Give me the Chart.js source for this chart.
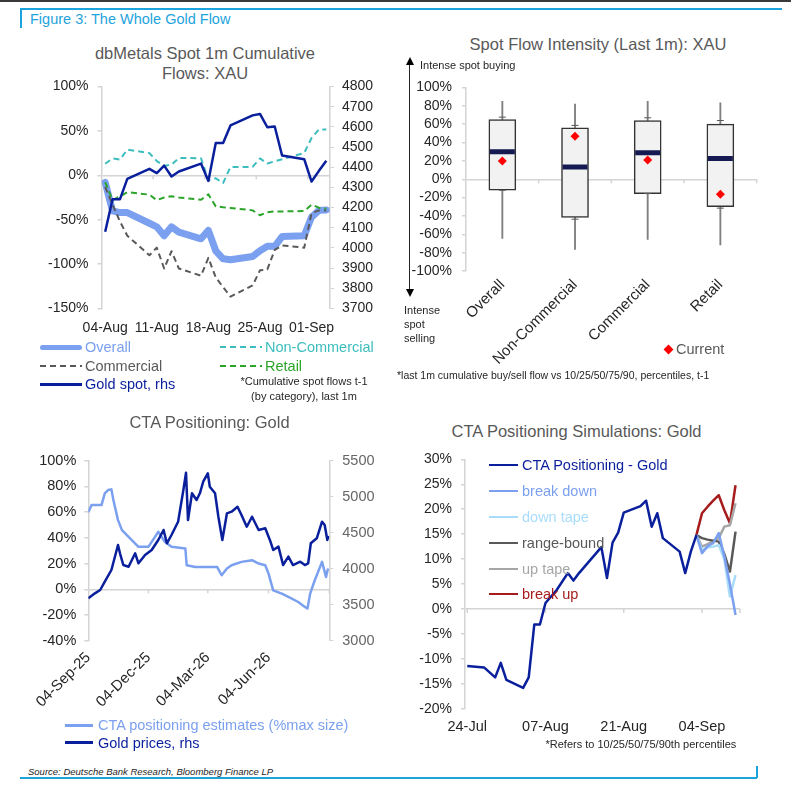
<!DOCTYPE html>
<html>
<head>
<meta charset="utf-8">
<script src="https://cdn.jsdelivr.net/npm/chart.js@4.4.1/dist/chart.umd.min.js"></script>
<style>
  body { margin:0; background:#fff; font-family:"Liberation Sans", Arial, sans-serif; }
  #page { position:relative; width:791px; height:791px; overflow:hidden; background:#fff; }
  .box { position:absolute; }
  .t { position:absolute; white-space:nowrap; line-height:1; transform:translateY(-50%); }
  .tc { position:absolute; white-space:nowrap; line-height:1; transform:translate(-50%,-50%); }
  .title { color:#595959; font-size:16.5px; }
  .note { color:#262626; font-size:11px; }
  .leg { font-size:14.5px; }
  canvas { position:absolute; }
</style>
</head>
<body>
<div id="page">
  <!-- frame -->
  <div class="box" style="left:0;top:0;width:791px;height:1.5px;background:#3a3a3a"></div>
  <div class="box" style="left:20px;top:8px;width:762px;height:1.5px;background:#1ea4dc"></div>
  <div class="box" style="left:20px;top:8px;width:2px;height:20px;background:#1ea4dc"></div>
  <div class="t" style="left:30px;top:19px;font-size:14.5px;color:#1ea4dc">Figure 3: The Whole Gold Flow</div>
  <div class="box" style="left:20px;top:776.5px;width:737px;height:2px;background:#1ea4dc"></div>
  <div class="box" style="left:755.5px;top:766px;width:2px;height:12px;background:#1ea4dc"></div>
  <div class="t" style="left:28px;top:772px;font-size:9.5px;font-style:italic;color:#262626">Source: Deutsche Bank Research, Bloomberg Finance LP</div>

  <!-- chart 1 -->
  <div class="tc title" style="left:205px;top:53px">dbMetals Spot 1m Cumulative</div>
  <div class="tc title" style="left:205px;top:72.5px">Flows: XAU</div>
  <canvas id="c1" width="400" height="270" style="left:0;top:75px"></canvas>
  <div class="box" style="left:40px;top:344.5px;width:42px;height:5px;border-radius:3px;background:#7ba0ef"></div>
  <div class="t leg" style="left:85px;top:347px;color:#7ba0ef">Overall</div>
  <div class="box" style="left:220px;top:346px;width:42px;height:2px;background:repeating-linear-gradient(90deg,#3dbdbd 0 6px,transparent 6px 10px)"></div>
  <div class="t leg" style="left:265px;top:347px;color:#3dbdbd">Non-Commercial</div>
  <div class="box" style="left:40px;top:364.5px;width:42px;height:2px;background:repeating-linear-gradient(90deg,#595959 0 6px,transparent 6px 10px)"></div>
  <div class="t leg" style="left:85px;top:365.5px;color:#595959">Commercial</div>
  <div class="box" style="left:220px;top:364.5px;width:42px;height:2px;background:repeating-linear-gradient(90deg,#2aa52a 0 6px,transparent 6px 10px)"></div>
  <div class="t leg" style="left:265px;top:365.5px;color:#2aa52a">Retail</div>
  <div class="box" style="left:40px;top:383px;width:42px;height:2.5px;background:#0a1f9c"></div>
  <div class="t leg" style="left:85px;top:384px;color:#0a1f9c">Gold spot, rhs</div>
  <div class="tc note" style="left:304px;top:381px">*Cumulative spot flows t-1</div>
  <div class="tc note" style="left:304px;top:396px">(by category), last 1m</div>

  <!-- chart 2 -->
  <div class="tc title" style="left:598px;top:44px">Spot Flow Intensity (Last 1m): XAU</div>
  <canvas id="c2" width="401" height="320" style="left:390px;top:70px"></canvas>
  <div class="box" style="left:409px;top:64px;width:1.3px;height:226px;background:#262626"></div>
  <div class="box" style="left:405.5px;top:57px;width:0;height:0;border-left:4.5px solid transparent;border-right:4.5px solid transparent;border-bottom:8px solid #000"></div>
  <div class="box" style="left:405.5px;top:289px;width:0;height:0;border-left:4.5px solid transparent;border-right:4.5px solid transparent;border-top:8px solid #000"></div>
  <div class="t note" style="left:420px;top:64.5px">Intense spot buying</div>
  <div class="t note" style="left:404px;top:310px">Intense</div>
  <div class="t note" style="left:404px;top:324px">spot</div>
  <div class="t note" style="left:404px;top:338px">selling</div>
  <div class="box" style="left:665px;top:345.5px;width:7px;height:7px;background:#ff0000;transform:rotate(45deg)"></div>
  <div class="t" style="left:676px;top:349px;font-size:14.5px;color:#595959">Current</div>
  <div class="t note" style="left:397px;top:375px;font-size:10.5px">*last 1m cumulative buy/sell flow vs 10/25/50/75/90, percentiles, t-1</div>

  <!-- chart 3 -->
  <div class="tc title" style="left:209.5px;top:421.5px">CTA Positioning: Gold</div>
  <canvas id="c3" width="400" height="275" style="left:0;top:440px"></canvas>
  <div class="box" style="left:65px;top:724px;width:28px;height:2.5px;background:#7ba0ef"></div>
  <div class="t leg" style="left:98px;top:725px;color:#7ba0ef">CTA positioning estimates (%max size)</div>
  <div class="box" style="left:65px;top:741px;width:28px;height:2.5px;background:#0a1f9c"></div>
  <div class="t leg" style="left:98px;top:742.5px;color:#0a1f9c">Gold prices, rhs</div>

  <!-- chart 4 -->
  <div class="tc title" style="left:576.5px;top:431px">CTA Positioning Simulations: Gold</div>
  <canvas id="c4" width="391" height="305" style="left:400px;top:440px"></canvas>
  <div class="box" style="left:489px;top:463.5px;width:29px;height:2.5px;background:#0a1f9c"></div>
  <div class="t leg" style="left:522px;top:465px;color:#0a1f9c">CTA Positioning - Gold</div>
  <div class="box" style="left:489px;top:489.5px;width:29px;height:2.5px;background:#7ba0ef"></div>
  <div class="t leg" style="left:522px;top:491px;color:#7ba0ef">break down</div>
  <div class="box" style="left:489px;top:515.5px;width:29px;height:2.5px;background:#a9dcfa"></div>
  <div class="t leg" style="left:522px;top:517px;color:#a9dcfa">down tape</div>
  <div class="box" style="left:489px;top:541.5px;width:29px;height:2.5px;background:#595959"></div>
  <div class="t leg" style="left:522px;top:543px;color:#595959">range-bound</div>
  <div class="box" style="left:489px;top:567.5px;width:29px;height:2.5px;background:#a6a6a6"></div>
  <div class="t leg" style="left:522px;top:569px;color:#a6a6a6">up tape</div>
  <div class="box" style="left:489px;top:592.5px;width:29px;height:2.5px;background:#a61c1c"></div>
  <div class="t leg" style="left:522px;top:594px;color:#a61c1c">break up</div>
  <div class="t note" style="left:545.5px;top:744px">*Refers to 10/25/50/75/90th percentiles</div>
</div>

<script>
// ---- chart 1: dbMetals spot 1m cumulative flows (days after 04-Aug) ----
const flowDays = [0, 1, 2, 3, 6, 7, 8, 9, 10, 13, 14, 15, 16, 17, 20, 21, 22, 23, 24, 27, 28, 29, 30];
const flowOverall = [-8, -40, -42, -42, -54, -58, -68, -58, -64, -71.5, -62, -85, -94, -95, -91.5, -85, -80, -80, -69, -68, -47, -39.5, -39];
const flowNonComm = [13, 19, 17.7, 29, 25, 16, 10.5, 12, 19.5, 19.2, -5.6, -3.4, -8.7, 9.4, 9.4, 19, 13.2, 15.8, 18, 25.2, 42, 51.6, 51.6];
const flowComm = [-13, -33, -52, -68, -90, -81.5, -105, -85.5, -105, -113, -93, -115, -126, -136.7, -124, -107, -106, -84, -79, -81.5, -42.6, -39.5, -39.5];
const flowRetail = [-7.6, -28, -23.7, -19, -21.8, -28, -25, -23.7, -25, -27.5, -21.5, -35, -36, -36.7, -39.5, -45, -41.5, -40.7, -40.7, -40.3, -33, -36.5, -37.6];
const goldSpot = [4080, 4241, 4241, 4342, 4392, 4371, 4408, 4354, 4379, 4418, 4332, 4520, 4520, 4607, 4657, 4664, 4598, 4602, 4458, 4440, 4329, 4382, 4432];
const flowTickDays = [0, 7, 14, 21, 28];
const flowTickLabels = ['04-Aug', '11-Aug', '18-Aug', '25-Aug', '01-Sep'];

// ---- chart 2: spot flow intensity percentiles ----
const flowCategories = ['Overall', 'Non-Commercial', 'Commercial', 'Retail'];
const pct10 = [-64.5, -76.5, -65.6, -71.7];
const pct25 = [-12, -41.6, -15.6, -30];
const pct50 = [30, 13.4, 29, 22.5];
const pct75 = [65, 56, 64, 60];
const pct90 = [85, 82, 85, 83.4];
const capHigh = [67.7, 58.7, 67, 64];
const capLow = [-12, -43.5, -15.6, -31.5];
const currentFlow = [20, 47, 21, -16.3];

// ---- chart 3: CTA positioning vs gold (days after 04-Sep-25) ----
const ctaTickDays = [0, 91, 181, 273];
const ctaTickLabels = ['04-Sep-25', '04-Dec-25', '04-Mar-26', '04-Jun-26'];
const ctaPosDays = [0, 5, 20, 25, 30, 35, 38, 45, 51, 61, 76, 91, 101, 106, 116, 126, 147, 149, 162, 195, 202, 210, 217, 232, 248, 258, 268, 273, 280, 293, 303, 318, 328, 332, 336, 343, 354, 360, 363];
const ctaPosValues = [60, 65.5, 65.5, 74.6, 77.2, 77.7, 69.4, 53.8, 46, 40.8, 33, 33, 40.8, 44.7, 36.9, 33, 31.7, 18.7, 17.4, 17.4, 10.9, 16.1, 18.7, 21.3, 22.6, 20, 18.7, 12.2, -0.8, -3.4, -6, -9.9, -13.7, -15, -3.4, 7, 21.3, 9.6, 16.1];
const goldPriceDays = [0, 10, 18, 25, 35, 45, 48, 53, 61, 71, 76, 86, 96, 106, 114, 119, 126, 136, 144, 148, 151, 157, 164, 169, 174, 181, 184, 192, 197, 203, 210, 217, 226, 232, 240, 248, 258, 268, 275, 280, 288, 295, 303, 310, 321, 328, 333, 337, 346, 354, 358, 362, 364];
const goldPriceValues = [3589, 3658, 3704, 3819, 3982, 4329, 4214, 4051, 4028, 4214, 4075, 4190, 4260, 4399, 4538, 4353, 4468, 4653, 5093, 5333, 4676, 5047, 4954, 5047, 5208, 5325, 5139, 5047, 4722, 4399, 4769, 4792, 4861, 4746, 4583, 4722, 4538, 4561, 4399, 4260, 4306, 4051, 4167, 4051, 4097, 4051, 4075, 4353, 4422, 4653, 4607, 4399, 4454];

// ---- chart 4: CTA positioning simulations (days after 24-Jul) ----
const simTickDays = [0, 14, 28, 42];
const simTickLabels = ['24-Jul', '07-Aug', '21-Aug', '04-Sep'];
const ctaSimDays = [0, 3, 5, 6, 7, 10, 11, 12, 13, 14, 16, 18, 19, 20, 24, 25, 26, 27, 28, 31, 32, 33, 34, 35, 38, 39, 40, 41];
const ctaSimValues = [-11.4, -11.7, -13.7, -10.8, -14.2, -15.8, -13.7, -3.1, -3.1, 1.2, 3.8, 7.2, 5.7, 7.2, 12.4, 6.2, 13.3, 15.3, 19.3, 20.6, 21.7, 16.5, 19.2, 14.2, 11.5, 7.2, 11.5, 14.8];
const scenarioDays = [41, 42, 43, 44, 45, 46, 47, 48];
const breakDown = [14.8, 11.2, 12.6, 13.2, 15.2, 10.5, 5, -1.2];
const downTape = [14.8, 11.8, 12.3, 12.5, 12.8, 10, 2.5, 6.8];
const rangeBound = [14.8, 14.2, 13.9, 13.7, 13.5, 11, 7.5, 15.5];
const upTape = [14.8, 12.5, 13, 13.6, 14.2, 16.5, 16.8, 21.2];
const breakUp = [14.8, 19.2, 20.5, 21.7, 22.8, 19.8, 17.2, 24.8];

const NAVY = '#0a1f9c';
const LIGHT = '#7ba0ef';
const AXIS = '#d4d4d4';

Chart.defaults.font.family = '"Liberation Sans", Arial, sans-serif';
Chart.defaults.font.size = 14;
Chart.defaults.color = '#262626';
Chart.defaults.animation = false;
Chart.defaults.responsive = false;
Chart.defaults.plugins.legend.display = false;
Chart.defaults.plugins.tooltip.enabled = false;
Chart.defaults.elements.point.radius = 0;
Chart.defaults.elements.line.tension = 0;
Chart.defaults.elements.line.borderJoinStyle = 'round';

// small tick marks hanging under the 0 line, like the excel category axis
const zeroTicks = {
    id: 'zeroTicks',
    beforeDatasetsDraw(chart, args, opts) {
        if (!opts.at) return;
        const { ctx, scales: { x, y } } = chart;
        const y0 = y.getPixelForValue(0);
        ctx.save();
        ctx.strokeStyle = AXIS;
        ctx.lineWidth = 1.5;
        opts.at.forEach(v => {
            const px = x.getPixelForValue(v);
            ctx.beginPath();
            ctx.moveTo(px, y0);
            ctx.lineTo(px, y0 + 4);
            ctx.stroke();
        });
        ctx.restore();
    }
};
Chart.register(zeroTicks);

function pairs(xs, ys) {
    return xs.map((x, i) => ({ x: x, y: ys[i] }));
}
function fixWidth(w) {
    return s => { s.width = w; s.paddingTop = 0; s.paddingBottom = 0; };
}
function fixHeight(h) {
    return s => { s.height = h; s.paddingLeft = 0; s.paddingRight = 0; };
}
function zeroLine(c) { return c.tick && c.tick.value === 0 ? AXIS : 'transparent'; }
function pct(v) { return v + '%'; }
function plain(v) { return String(v); }
function dayTicks(days, labels) {
    return {
        afterBuildTicks: s => { s.ticks = days.map(v => ({ value: v })); },
        tickLabel: v => labels[days.indexOf(v)] || ''
    };
}

// 1. spot flows
const t1 = dayTicks(flowTickDays, flowTickLabels);
new Chart(document.getElementById('c1'), {
    type: 'line',
    data: {
        datasets: [
            { data: pairs(flowDays, goldSpot), yAxisID: 'yR', borderColor: NAVY, borderWidth: 2.5, order: 0 },
            { data: pairs(flowDays, flowRetail), borderColor: '#2aa52a', borderWidth: 2, borderDash: [6, 4], order: 1 },
            { data: pairs(flowDays, flowComm), borderColor: '#595959', borderWidth: 2, borderDash: [6, 4], order: 2 },
            { data: pairs(flowDays, flowNonComm), borderColor: '#3dbdbd', borderWidth: 2, borderDash: [6, 4], order: 3 },
            { data: pairs(flowDays, flowOverall), borderColor: LIGHT, borderWidth: 7, borderCapStyle: 'round', order: 4 }
        ]
    },
    options: {
        layout: { padding: { top: 11.5, left: 0, right: 0, bottom: 0 } },
        plugins: { zeroTicks: { at: [6.5, 13.5, 20.5, 27.5] } },
        scales: {
            x: {
                type: 'linear', min: -0.5, max: 30.5,
                afterBuildTicks: t1.afterBuildTicks, afterFit: fixHeight(36.5),
                ticks: { callback: t1.tickLabel, padding: 11, maxRotation: 0, autoSkip: false },
                grid: { display: false, drawTicks: false }, border: { display: false }
            },
            y: {
                position: 'left', min: -150, max: 100, afterFit: fixWidth(101.5),
                ticks: { stepSize: 50, callback: pct, padding: 9, autoSkip: false },
                grid: { color: zeroLine, lineWidth: 1.5, tickLength: 4, tickColor: AXIS },
                border: { color: AXIS, width: 1.5 }
            },
            yR: {
                position: 'right', min: 3700, max: 4800, afterFit: fixWidth(70),
                ticks: { stepSize: 100, padding: 8, callback: plain, autoSkip: false },
                grid: { drawOnChartArea: false, tickLength: 4, tickColor: AXIS },
                border: { color: AXIS, width: 1.5 }
            }
        }
    }
});

// 2. flow intensity box plot
new Chart(document.getElementById('c2'), {
    type: 'bar',
    data: {
        labels: flowCategories,
        datasets: [
            { data: pct10.map((v, i) => [v, pct90[i]]), backgroundColor: '#7f7f7f', barThickness: 1.2, grouped: false, order: 5 },
            { data: pct25.map((v, i) => [v, pct75[i]]), backgroundColor: '#f2f2f2', borderColor: '#333333', borderWidth: 1.5, borderSkipped: false, barThickness: 27, grouped: false, order: 4 },
            { type: 'line', data: capHigh, showLine: false, pointStyle: 'line', pointRadius: 3.5, pointBorderWidth: 1, pointBorderColor: '#595959', order: 3 },
            { type: 'line', data: capLow, showLine: false, pointStyle: 'line', pointRadius: 3.5, pointBorderWidth: 1, pointBorderColor: '#595959', order: 3 },
            { type: 'line', data: pct50, showLine: false, pointStyle: 'line', pointRadius: 12.5, pointBorderWidth: 5, pointBorderColor: '#151a52', order: 2 },
            { type: 'line', data: currentFlow, showLine: false, pointStyle: 'rectRot', pointRadius: 4.5, pointBackgroundColor: '#ff0000', pointBorderColor: '#ff0000', pointBorderWidth: 0, order: 1 }
        ]
    },
    options: {
        layout: { padding: { top: 17.3, left: 0, right: 34.3, bottom: 0 } },
        plugins: { zeroTicks: { at: [0.5, 1.5, 2.5, 3.5] } },
        scales: {
            x: {
                afterFit: fixHeight(119),
                ticks: { font: { size: 15 }, minRotation: 45, maxRotation: 45, autoSkip: false, padding: 5 },
                grid: { display: false, drawTicks: false }, border: { display: false }
            },
            y: {
                min: -100, max: 100, afterFit: fixWidth(76),
                ticks: { stepSize: 20, callback: pct, padding: 10, autoSkip: false },
                grid: { color: zeroLine, lineWidth: 1.5, tickLength: 4, tickColor: AXIS },
                border: { color: AXIS, width: 1.5 }
            }
        }
    }
});

// 3. CTA positioning vs gold prices
const t3 = dayTicks(ctaTickDays, ctaTickLabels);
new Chart(document.getElementById('c3'), {
    type: 'line',
    data: {
        datasets: [
            { data: pairs(goldPriceDays, goldPriceValues), yAxisID: 'yR', borderColor: NAVY, borderWidth: 2.5, order: 0 },
            { data: pairs(ctaPosDays, ctaPosValues), borderColor: LIGHT, borderWidth: 2.5, order: 1 }
        ]
    },
    options: {
        layout: { padding: { top: 20.7, left: 0, right: 0, bottom: 0 } },
        plugins: { zeroTicks: { at: [91, 181, 273, 365] } },
        scales: {
            x: {
                type: 'linear', min: 0, max: 365,
                afterBuildTicks: t3.afterBuildTicks, afterFit: fixHeight(74.3),
                ticks: { callback: t3.tickLabel, font: { size: 15 }, minRotation: 45, maxRotation: 45, autoSkip: false, padding: 8 },
                grid: { display: false, drawTicks: false }, border: { display: false }
            },
            y: {
                position: 'left', min: -40, max: 100, afterFit: fixWidth(88.3),
                ticks: { stepSize: 20, callback: pct, padding: 8, font: { size: 14.5 }, autoSkip: false },
                grid: { color: zeroLine, lineWidth: 1.5, tickLength: 4, tickColor: AXIS },
                border: { color: AXIS, width: 1.5 }
            },
            yR: {
                position: 'right', min: 3000, max: 5500, afterFit: fixWidth(70.7),
                ticks: { stepSize: 500, padding: 9, color: '#666666', font: { size: 14.5 }, callback: plain, autoSkip: false },
                grid: { drawOnChartArea: false, tickLength: 4, tickColor: AXIS },
                border: { color: AXIS, width: 1.5 }
            }
        }
    }
});

// 4. CTA positioning simulations
const t4 = dayTicks(simTickDays, simTickLabels);
const scen = (vals, color) => ({ data: pairs(scenarioDays, vals), borderColor: color, borderWidth: 2.5, order: 1 });
new Chart(document.getElementById('c4'), {
    type: 'line',
    data: {
        datasets: [
            { data: pairs(ctaSimDays, ctaSimValues), borderColor: NAVY, borderWidth: 2.5, order: 0 },
            scen(breakDown, LIGHT),
            scen(downTape, '#a9dcfa'),
            scen(rangeBound, '#595959'),
            scen(upTape, '#a6a6a6'),
            scen(breakUp, '#a61c1c')
        ]
    },
    options: {
        layout: { padding: { top: 19.3, left: 0, right: 51, bottom: 0 } },
        plugins: { zeroTicks: { at: [0, 14, 28, 42, 48.8] } },
        scales: {
            x: {
                type: 'linear', min: -0.4, max: 48.8,
                afterBuildTicks: t4.afterBuildTicks, afterFit: fixHeight(36.2),
                ticks: { callback: t4.tickLabel, font: { size: 14.5 }, maxRotation: 0, autoSkip: false, padding: 9 },
                grid: { display: false, drawTicks: false }, border: { display: false }
            },
            y: {
                min: -20, max: 30, afterFit: fixWidth(65),
                ticks: { stepSize: 5, callback: pct, padding: 9, autoSkip: false },
                grid: { color: zeroLine, lineWidth: 1.5, tickLength: 4, tickColor: AXIS },
                border: { color: AXIS, width: 1.5 }
            }
        }
    }
});
</script>
</body>
</html>
